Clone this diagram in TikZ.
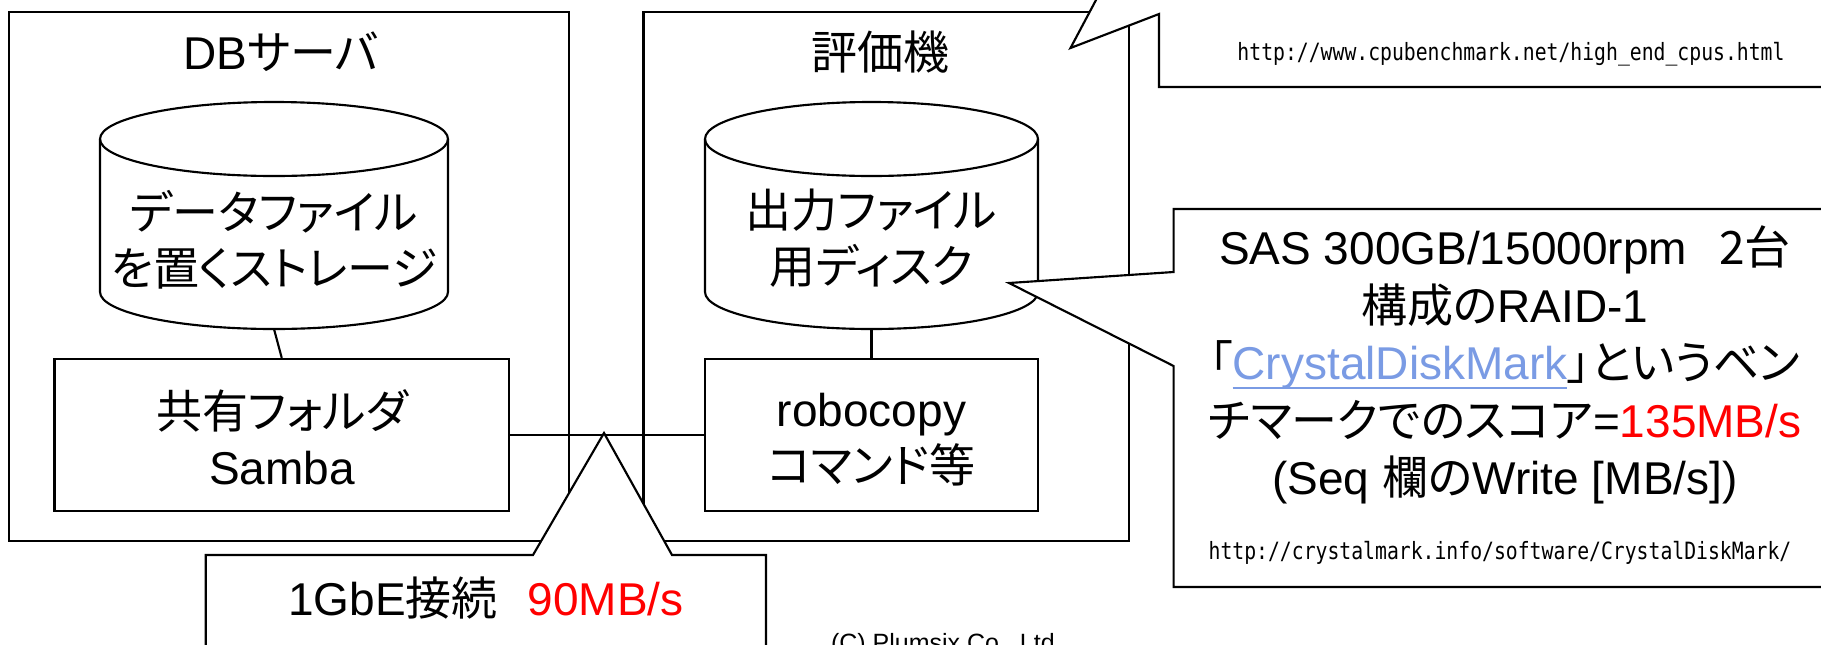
\documentclass[tikz,border=0pt]{standalone}
\usepackage{xcolor}
\usepackage{tikz}
\usetikzlibrary{fit}
\usepackage{fontspec}
\setmainfont{Liberation Sans}
\newfontfamily\ja[RawFeature=+palt]{Noto Sans CJK JP}
\newfontfamily\urlf[FakeStretch=0.83]{DejaVu Sans Mono}
\definecolor{redtxt}{RGB}{255,0,0}
\definecolor{linkblue}{RGB}{122,155,228}
\newsavebox\ulbox
\newcommand\ulinktext[1]{\sbox\ulbox{#1}\rlap{\rule[-7pt]{\wd\ulbox}{1.5pt}}\usebox\ulbox}
\begin{document}
\begin{tikzpicture}[x=0.75pt,y=-0.75pt,line width=1.6pt,
  bigtext/.style={font=\fontsize{34.5}{42}\selectfont,align=center,inner sep=0pt},
  frame/.style={draw,inner sep=0pt,line width=1.6pt},
  callout/.style={draw,fill=white,line width=1.6pt},
  cyl/.style={draw,line width=1.6pt},
  urltext/.style={font=\urlf\fontsize{17.85}{20}\selectfont,inner sep=0pt}]
\useasboundingbox (0,0) rectangle (1821,644);
\clip (0,0) rectangle (1821,644);
\fill[white] (0,0) rectangle (1821,644);

% outer machines
\node[frame,fit={(9,12) (569,541)}] (db) {};
\node[frame,fit={(643.5,12) (1128.6,541)}] (ev) {};
\node[bigtext] (dbtitle) at (281,52) {DB{\ja サーバ}};
\node[bigtext] (evtitle) at (880,52) {{\ja 評価機}};

% cylinder A
\draw[cyl] (100,139) -- (100,292) arc[start angle=180,end angle=360,x radius=130.5pt,y radius=27.75pt] -- (448,139);
\draw[cyl] (274,139) ellipse[x radius=130.5pt,y radius=27.75pt];
\coordinate (cylAbot) at (274,329);
\node[bigtext] (cylAtext) at (274,240) {{\ja データファイル}\\{\ja を置くストレージ}};

% cylinder B
\draw[cyl] (705,139) -- (705,292) arc[start angle=180,end angle=360,x radius=124.875pt,y radius=27.75pt] -- (1038,139);
\draw[cyl] (871.5,139) ellipse[x radius=124.875pt,y radius=27.75pt];
\coordinate (cylBbot) at (871.5,329);
\node[bigtext] (cylBtext) at (871.5,238.5) {{\ja 出力ファイル}\\{\ja 用ディスク}};

% inner boxes
\node[frame,fit={(54.5,359) (509,511)}] (samba) {};
\node[bigtext] (sambatext) at (282,437.5) {{\ja 共有フォルダ}\\Samba};
\node[frame,fit={(705,359) (1038,511)}] (robo) {};
\node[bigtext] (robotext) at (871.5,439.5) {robocopy\\{\ja コマンド等}};

% connectors
\draw (cylAbot) -- (samba.north);
\draw (cylBbot) -- (robo.north);
\draw (samba.east) -- (robo.west);

% callout 1GbE
\draw[callout] (205.8,555) -- (533,555) -- (604,433) -- (672,555) -- (766,555) -- (766,680) -- (205.8,680) -- cycle;
\node[bigtext] (gbe) at (486,598) {1GbE{\ja 接続}\hspace{0.65em}{\color{redtxt}90MB/s}};

% callout top right
\draw[callout] (1159,87) -- (1159,14) -- (1070.5,48) -- (1159,-118.6) -- (1159,-160) -- (1840,-160) -- (1840,87) -- cycle;
\node[urltext] (url1) at (1511,54) {http://www.cpubenchmark.net/high\_end\_cpus.html};

% callout SAS
\draw[callout] (1173.6,209) -- (1840,209) -- (1840,587) -- (1173.6,587) -- (1173.6,366) -- (1009,283) -- (1173.6,272) -- cycle;
\node[bigtext,font=\fontsize{34.5}{43.1}\selectfont] (sas) at (1505,365) {SAS 300GB/15000rpm\hspace{0.7em}{\ja 2台}\\{\ja 構成の}RAID-1\\{\ja 「}\textcolor{linkblue}{\ulinktext{CrystalDiskMark}}{\ja 」というベン}\\{\ja チマークでのスコア}={\color{redtxt}135MB/s}\\(Seq {\ja 欄の}Write [MB/s])};
\node[urltext] (url2) at (1500,553) {http://crystalmark.info/software/CrystalDiskMark/};

% copyright
\node[anchor=base west,inner sep=0pt,font=\fontsize{18.75}{22}\selectfont] (copy) at (830,651) {(C) Plumsix Co., Ltd.};
\end{tikzpicture}
\end{document}
